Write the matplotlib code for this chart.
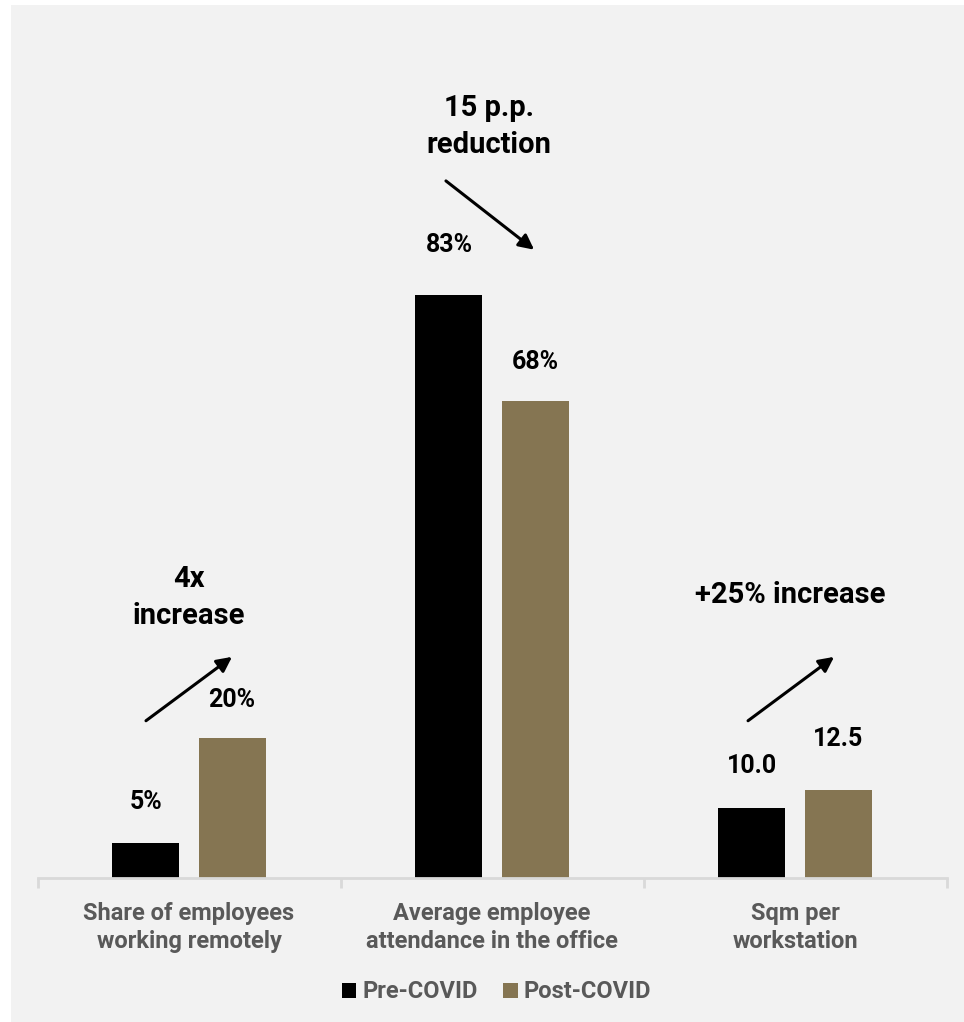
import matplotlib
matplotlib.use("Agg")
import matplotlib.pyplot as plt
from matplotlib.patches import Patch, Rectangle
import numpy as np

plt.rcParams['font.family'] = ['Roboto', 'DejaVu Sans']
plt.rcParams['font.weight'] = 'bold'

categories = ["Share of employees\nworking remotely",
              "Average employee\nattendance in the office",
              "Sqm per\nworkstation"]
series_names = ["Pre-COVID", "Post-COVID"]
pre_values = [5, 83, 10.0]
post_values = [20, 68, 12.5]
pre_labels = ["5%", "83%", "10.0"]
post_labels = ["20%", "68%", "12.5"]
change_texts = ["4x\nincrease", "15 p.p.\nreduction", "+25% increase"]

BG = '#f2f2f2'
BLACK = '#000000'
TAN = '#857552'
GRAY = '#595959'
AXIS = '#d9d9d9'

W, H = 964, 1022
fig = plt.figure(figsize=(W / 100, H / 100), dpi=100)
fig.patch.set_facecolor('white')
fig.patches.append(Rectangle((11 / W, 0), 1 - 11 / W, 1 - 5 / H,
                             transform=fig.transFigure, facecolor=BG,
                             edgecolor='none', zorder=-10))

ax = fig.add_axes([37.5 / W, 1 - 878 / H, 909 / W, 842.4 / H])
ax.set_facecolor(BG)
ax.patch.set_alpha(0)

x = np.arange(len(categories))
bw = 0.221
off = 0.142
ax.bar(x - off, pre_values, bw, color=BLACK, label=series_names[0])
ax.bar(x + off, post_values, bw, color=TAN, label=series_names[1])

ax.set_xlim(-0.5, 2.5)
ax.set_ylim(0, 120)

for s in ['top', 'right', 'left']:
    ax.spines[s].set_visible(False)
ax.spines['bottom'].set_color(AXIS)
ax.spines['bottom'].set_linewidth(2)
ax.set_yticks([])
ax.set_xticks(x)
ax.set_xticklabels(categories, fontsize=17, color=GRAY, fontweight='bold',
                   linespacing=1.3)
ax.tick_params(axis='x', which='major', length=0, pad=17)
ax.set_xticks(np.arange(-0.5, 3, 1), minor=True)
ax.tick_params(axis='x', which='minor', length=7, width=2, color=AXIS)

pre_off = [41, 50, 42]
post_off = [38, 39, 51]
for i in range(len(categories)):
    ax.annotate(pre_labels[i], (x[i] - off, pre_values[i]),
                xytext=(0, pre_off[i] / 1.389), textcoords='offset points',
                ha='center', va='center', fontsize=18, fontweight='bold', color=BLACK)
    ax.annotate(post_labels[i], (x[i] + off, post_values[i]),
                xytext=(0, post_off[i] / 1.389), textcoords='offset points',
                ha='center', va='center', fontsize=18, fontweight='bold', color=BLACK)

# change arrows (from black bar centre to tan bar centre)
arrows = [((-0.142, 22.4), (0.142, 31.5)),
          ((0.848, 99.3), (1.139, 89.5)),
          ((1.845, 22.4), (2.129, 31.5))]
for (s, e) in arrows:
    ax.annotate('', xy=e, xytext=s,
                arrowprops=dict(arrowstyle='-|>,head_length=0.9,head_width=0.45',
                                color='black', lw=2.2, shrinkA=0, shrinkB=0))

text_pos = [(0.0, 40.0), (0.99, 107.0), (1.983, 40.3)]
for t, (tx, ty) in zip(change_texts, text_pos):
    ax.text(tx, ty, t, ha='center', va='center', fontsize=21,
            fontweight='bold', color='black', linespacing=1.42)

handles = [Patch(facecolor=BLACK), Patch(facecolor=TAN)]
fig.legend(handles, series_names, loc='center', bbox_to_anchor=(496.5 / W, 1 - 992 / H),
           ncol=2, frameon=False, labelcolor=GRAY,
           handlelength=0.6, handleheight=0.6, handletextpad=0.25,
           columnspacing=1.1, prop={'weight': 'bold', 'size': 17})

fig.savefig('out.png', dpi=100, facecolor='white')
